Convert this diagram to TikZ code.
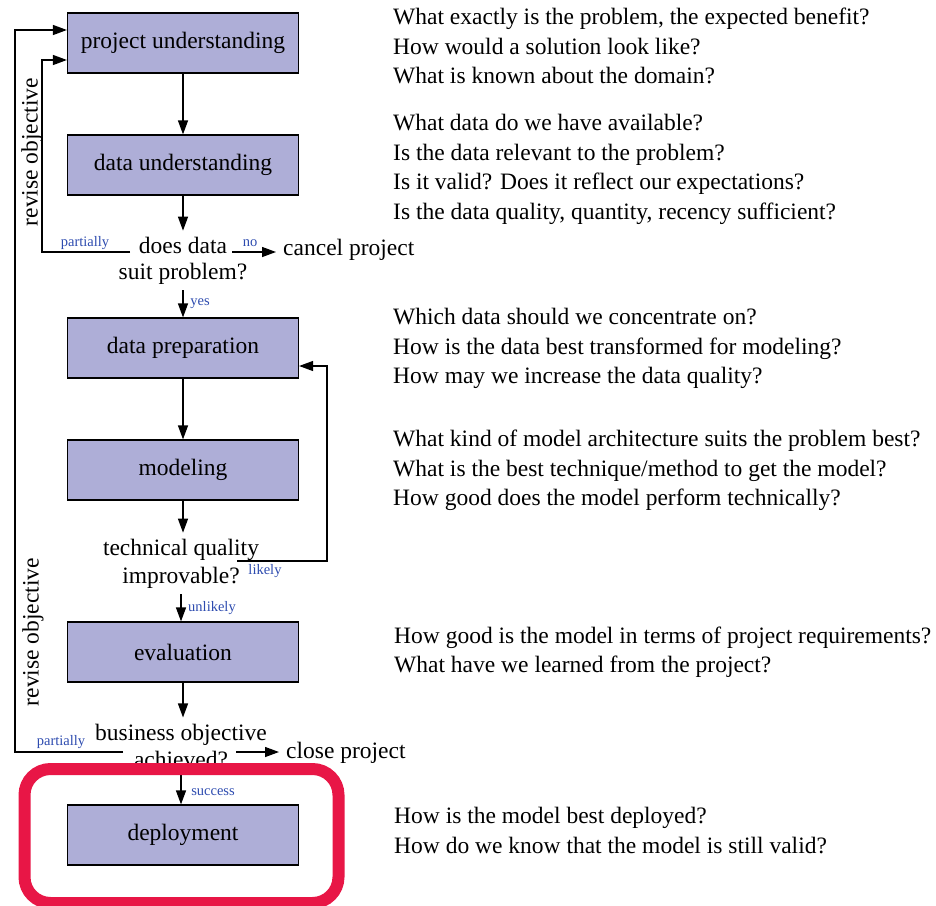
\documentclass[tikz,border=0pt]{standalone}
\usepackage{fontspec}
\setmainfont{Liberation Serif}
\usetikzlibrary{arrows.meta,calc}

\definecolor{boxfill}{RGB}{174,174,215}
\definecolor{lblue}{RGB}{45,75,175}
\definecolor{hilite}{RGB}{232,22,70}

\begin{document}
\begin{tikzpicture}[x=1pt,y=-1pt,
  phase/.style={draw=black, line width=1.2pt, fill=boxfill,
    minimum width=231pt, minimum height=60pt, inner sep=0pt,
    font=\fontsize{23.5}{26}\selectfont},
  decision/.style={align=center, inner xsep=0pt, inner ysep=6pt},
  outcome/.style={anchor=base west, inner xsep=7pt, inner ysep=0pt,
    font=\fontsize{23.5}{27}\selectfont},
  question/.style={anchor=base west, inner sep=0pt,
    font=\fontsize{23.5}{29.5}\selectfont},
  lbl/.style={text=lblue, inner sep=0pt, font=\fontsize{14.5}{16}\selectfont},
  flow/.style={line width=1.3pt, -{Triangle[length=14pt,width=10pt]}},
  side/.style={rotate=90, inner sep=0pt, font=\fontsize{23.5}{27}\selectfont}
]
\useasboundingbox (0,0) rectangle (936,905);

% process phases
\node[phase] (pu) at (183,43)  {project understanding};
\node[phase] (du) at (183,165) {data understanding};
\node[phase] (dp) at (183,348) {data preparation};
\node[phase] (mo) at (183,470) {modeling};
\node[phase] (ev) at (183,652) {evaluation};
\node[phase] (de) at (183,835) {deployment};

% decisions
\node[decision, font=\fontsize{23.5}{26}\selectfont] (d1) at (183,260.5) {does data\\suit problem?};
\node[decision, font=\fontsize{23.5}{28}\selectfont] (d2) at (181,563.5) {technical quality\\improvable?};
\node[decision, font=\fontsize{23.5}{28}\selectfont] (d3) at (181,746) {business objective\\achieved?};

% outcomes
\node[outcome] (cp) at (276,255) {cancel project};
\node[outcome] (cl) at (279,758) {close project};

% side captions
\node[side] (rv1) at (32,152) {revise objective};
\node[side] (rv2) at (33,632) {revise objective};

% guiding questions
\node[question] (q1a) at (393,24)  {What exactly is the problem, the expected benefit?};
\node[question] (q1b) at (393,54)  {How would a solution look like?};
\node[question] (q1c) at (393,83)  {What is known about the domain?};
\node[question] (q2a) at (393,130) {What data do we have available?};
\node[question] (q2b) at (393,160) {Is the data relevant to the problem?};
\node[question] (q2c) at (393,189) {Is it valid? Does it reflect our expectations?};
\node[question] (q2d) at (393,219) {Is the data quality, quantity, recency sufficient?};
\node[question] (q3a) at (393,324) {Which data should we concentrate on?};
\node[question] (q3b) at (393,354) {How is the data best transformed for modeling?};
\node[question] (q3c) at (393,383) {How may we increase the data quality?};
\node[question] (q4a) at (393,446) {What kind of model architecture suits the problem best?};
\node[question] (q4b) at (393,476) {What is the best technique/method to get the model?};
\node[question] (q4c) at (393,505) {How good does the model perform technically?};
\node[question] (q5a) at (394,643) {How good is the model in terms of project requirements?};
\node[question] (q5b) at (394,672) {What have we learned from the project?};
\node[question] (q6a) at (394,823) {How is the model best deployed?};
\node[question] (q6b) at (394,853) {How do we know that the model is still valid?};

% route points of the feedback loops
\coordinate (a1) at (130,252);
\coordinate (a2) at (42,252);
\coordinate (a3) at (42,60);
\coordinate (n1) at (232,252);
\coordinate (b1) at (237,561);
\coordinate (b2) at (327,561);
\coordinate (b3) at (327,366);
\coordinate (c1) at (123,752);
\coordinate (c2) at (15,752);
\coordinate (c3) at (15,30);
\coordinate (n3) at (236,752);

% main flow
\draw[flow] (pu) -- (du);
\draw[flow] (du) -- (d1);
\draw[flow] (d1) -- (dp);
\draw[flow] (dp) -- (mo);
\draw[flow] (mo.south) -- (mo.south |- d2.north);
\draw[flow] (d2.south) -- (d2.south |- ev.north);
\draw[flow] (ev.south) -- (ev.south |- d3.north);
\draw[flow] (d3.south) -- (d3.south |- de.north);

% branches
\draw[flow] (a1) -- (a2) -- (a3) -- (a3 -| pu.west);
\draw[flow] (n1) -- (n1 -| cp.west);
\draw[flow] (b1) -- (b2) -- (b3) -- (b3 -| dp.east);
\draw[flow] (c1) -- (c2) -- (c3) -- (c3 -| pu.west);
\draw[flow] (n3) -- (n3 -| cl.west);

% branch labels
\node[lbl] (lp1) at (85,243)  {partially};
\node[lbl] (ln1) at (250,243) {no};
\node[lbl] (ly)  at (200,304) {yes};
\node[lbl] (ll)  at (265,571) {likely};
\node[lbl] (lu)  at (212,608) {unlikely};
\node[lbl] (lp2) at (61,742)  {partially};
\node[lbl] (ln3) at (252,769) {no};
\node[lbl] (ls)  at (213,792) {success};

% highlight frame around the deployment phase
\draw[hilite, line width=12pt, rounded corners=26pt] (24.5,769) rectangle (338.5,903);
\end{tikzpicture}
\end{document}
